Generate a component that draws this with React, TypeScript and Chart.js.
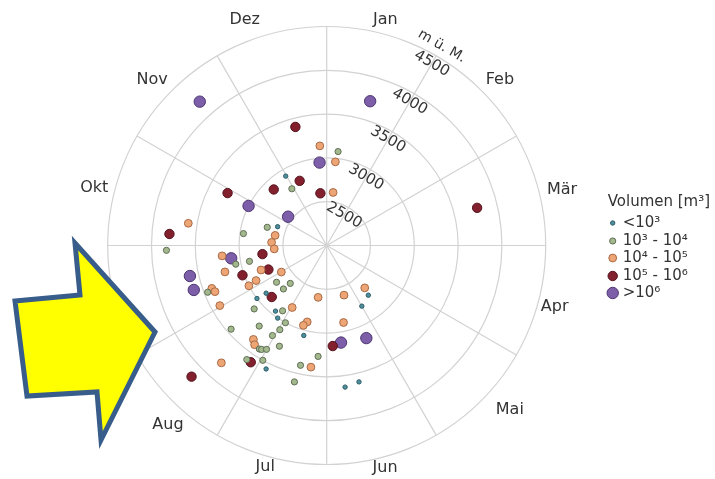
import React, { useEffect, useRef } from 'react';
import { Chart, registerables } from 'chart.js';

Chart.register(...registerables);

// ---------- labels ----------
const months = ['Jan', 'Feb', 'Mär', 'Apr', 'Mai', 'Jun', 'Jul', 'Aug', 'Sep', 'Okt', 'Nov', 'Dez'];
const radialTicks = [2500, 3000, 3500, 4000, 4500];
const elevMin = 2000;
const elevMax = 4500;
const radialUnit = 'm ü. M.';
const legendTitle = 'Volumen [m³]';
const classLabels = ['<10³', '10³ - 10⁴', '10⁴ - 10⁵', '10⁵ - 10⁶', '>10⁶'];

// ---------- data: day of year + elevation (m ü. M.) per volume class ----------
const dayT = [334, 295, 235, 236, 221, 217, 197, 209, 142, 152, 175, 169];
const elevT = [2920, 2600, 2880, 3000, 2950, 3000, 3060, 3570, 2740, 2800, 3630, 3600];

const dayG = [7, 333, 291, 282, 272, 262, 262, 252, 237, 227, 228, 232, 217, 211, 223, 232, 212, 214, 216, 215, 213, 208, 187, 218, 212, 195, 196];
const elevG = [3080, 2760, 2710, 2960, 3830, 3060, 2900, 3460, 2710, 2600, 2700, 3100, 2900, 3000, 3200, 3450, 3100, 3200, 3410, 3400, 3370, 3270, 3270, 3590, 3500, 3400, 3600];

const dayO = [361, 6, 7, 285, 277, 270, 283, 268, 253, 243, 259, 253, 251, 247, 246, 192, 244, 212, 197, 199, 221, 219, 225, 190, 163, 140, 170];
const elevO = [3140, 2960, 2610, 2600, 2630, 2600, 3600, 3200, 2800, 2600, 3200, 3400, 3380, 2900, 3000, 2600, 3400, 2810, 2900, 2950, 3360, 3400, 3800, 3400, 2600, 2650, 2900];

const dayR = [350, 342, 321, 358, 77, 302, 278, 266, 251, 254, 230, 216, 229, 179];
const elevR = [3400, 2800, 2880, 2600, 3770, 3280, 3800, 2740, 2720, 3020, 2860, 3590, 4150, 3150];

const dayP = [17, 360, 311, 323, 301, 266, 261, 255, 174, 159];
const elevP = [3720, 2950, 2550, 4190, 3000, 3100, 3600, 3600, 3120, 3150];

const classDays = [dayT, dayG, dayO, dayR, dayP];
const classElevs = [elevT, elevG, elevO, elevR, elevP];

// ---------- styles ----------
const fillColors = ['#4f8e9c', '#a3b88c', '#eda575', '#82202e', '#7d5ea8'];
const edgeColors = ['#2e5e68', '#5f6e55', '#a86a45', '#54121c', '#4d3672'];
const radii = [2.2, 3.1, 3.9, 4.7, 5.7];

const FONT = '"DejaVu Sans", Verdana, sans-serif';
const TEXT = '#333333';
const GRID = '#d2d2d2';

// month label placement (degrees clockwise from top, pixel distance from centre)
const labelAngle = [14.6, 46.3, 76.7, 105, 131.9, 165.3, 195.5, 221.5, 255, 284, 313.5, 340];
const labelDist = [233, 239.6, 241.8, 236, 246, 230, 230, 239.6, 243, 239.5, 240.6, 239.8];

function toXY(day: number, elev: number) {
  const a = (day / 365) * 2 * Math.PI;
  const r = elev - elevMin;
  return { x: r * Math.sin(a), y: r * Math.cos(a) };
}

const polarGrid = {
  id: 'polarGrid',
  beforeDatasetsDraw(chart: any) {
    const { ctx, scales } = chart;
    const sx = scales.x;
    const sy = scales.y;
    const cx = sx.getPixelForValue(0);
    const cy = sy.getPixelForValue(0);
    const k = (sx.getPixelForValue(1000) - cx) / 1000;
    const R = (elevMax - elevMin) * k;
    ctx.save();
    ctx.strokeStyle = GRID;
    ctx.lineWidth = 1.2;
    radialTicks.forEach((t) => {
      ctx.beginPath();
      ctx.arc(cx, cy, (t - elevMin) * k, 0, Math.PI * 2);
      ctx.stroke();
    });
    for (let i = 0; i < 12; i++) {
      const a = (i * 30 * Math.PI) / 180;
      ctx.beginPath();
      ctx.moveTo(cx, cy);
      ctx.lineTo(cx + R * Math.sin(a), cy - R * Math.cos(a));
      ctx.stroke();
    }
    // month labels
    ctx.fillStyle = TEXT;
    ctx.font = `16px ${FONT}`;
    ctx.textAlign = 'center';
    ctx.textBaseline = 'middle';
    months.forEach((m, i) => {
      const a = (labelAngle[i] * Math.PI) / 180;
      const rr = labelDist[i];
      ctx.fillText(m, cx + rr * Math.sin(a), cy - rr * Math.cos(a));
    });
    // radial tick labels along the 30° spoke
    const ang = (30 * Math.PI) / 180;
    ctx.font = `15px ${FONT}`;
    radialTicks.forEach((t) => {
      const rr = (t - elevMin) * k - 9;
      ctx.save();
      ctx.translate(cx + rr * Math.sin(ang), cy - rr * Math.cos(ang));
      ctx.rotate(ang);
      ctx.fillText(String(t), 0, 0);
      ctx.restore();
    });
    ctx.font = `14px ${FONT}`;
    {
      const rr = R + 11;
      ctx.save();
      ctx.translate(cx + rr * Math.sin(ang), cy - rr * Math.cos(ang));
      ctx.rotate(ang);
      ctx.fillText(radialUnit, 0, 0);
      ctx.restore();
    }
    ctx.restore();
  },
};

const overlay = {
  id: 'overlay',
  afterDraw(chart: any) {
    const { ctx, chartArea } = chart;
    ctx.save();
    // legend
    const lx = chartArea.right + 62;
    ctx.fillStyle = TEXT;
    ctx.font = `15px ${FONT}`;
    ctx.textAlign = 'left';
    ctx.textBaseline = 'middle';
    ctx.fillText(legendTitle, lx, 202);
    const rowY = [223, 241, 258, 276, 293];
    classLabels.forEach((lab, i) => {
      const y = rowY[i];
      ctx.beginPath();
      ctx.arc(lx + 5, y, radii[i], 0, Math.PI * 2);
      ctx.fillStyle = fillColors[i];
      ctx.fill();
      ctx.lineWidth = 1;
      ctx.strokeStyle = edgeColors[i];
      ctx.stroke();
      ctx.fillStyle = TEXT;
      ctx.font = `15px ${FONT}`;
      ctx.fillText(lab, lx + 15, y);
    });
    // yellow arrow annotation
    ctx.beginPath();
    ctx.moveTo(15, 301);
    ctx.lineTo(80, 295);
    ctx.lineTo(75, 243);
    ctx.lineTo(155, 332);
    ctx.lineTo(101, 440);
    ctx.lineTo(97, 392);
    ctx.lineTo(27, 396);
    ctx.closePath();
    ctx.fillStyle = '#ffff00';
    ctx.fill();
    ctx.lineWidth = 5;
    ctx.lineJoin = 'miter';
    ctx.strokeStyle = '#385d8a';
    ctx.stroke();
    ctx.restore();
  },
};

export default function App() {
  const ref = useRef<HTMLCanvasElement>(null);
  useEffect(() => {
    const canvas = ref.current;
    if (!canvas) return;
    const datasets = classLabels.map((lab, i) => ({
      label: lab,
      data: classDays[i].map((d, j) => toXY(d, classElevs[i][j])),
      pointRadius: radii[i],
      pointBackgroundColor: fillColors[i],
      pointBorderColor: edgeColors[i],
      pointBorderWidth: 1,
      showLine: false,
    }));
    const chart = new Chart(canvas, {
      type: 'scatter',
      data: { datasets },
      options: {
        responsive: false,
        animation: false,
        layout: { padding: { left: 107.7, right: 169.3, top: 26.5, bottom: 14.5 } },
        scales: {
          x: { type: 'linear', min: elevMin - elevMax, max: elevMax - elevMin, display: false },
          y: { type: 'linear', min: elevMin - elevMax, max: elevMax - elevMin, display: false },
        },
        plugins: { legend: { display: false }, tooltip: { enabled: false } },
      },
      plugins: [polarGrid, overlay],
    } as any);
    return () => chart.destroy();
  }, []);
  return (
    <div style={{ position: 'fixed', left: 0, top: 0, width: 715, height: 479, background: '#ffffff' }}>
      <canvas ref={ref} width={715} height={479} style={{ display: 'block' }} />
    </div>
  );
}
